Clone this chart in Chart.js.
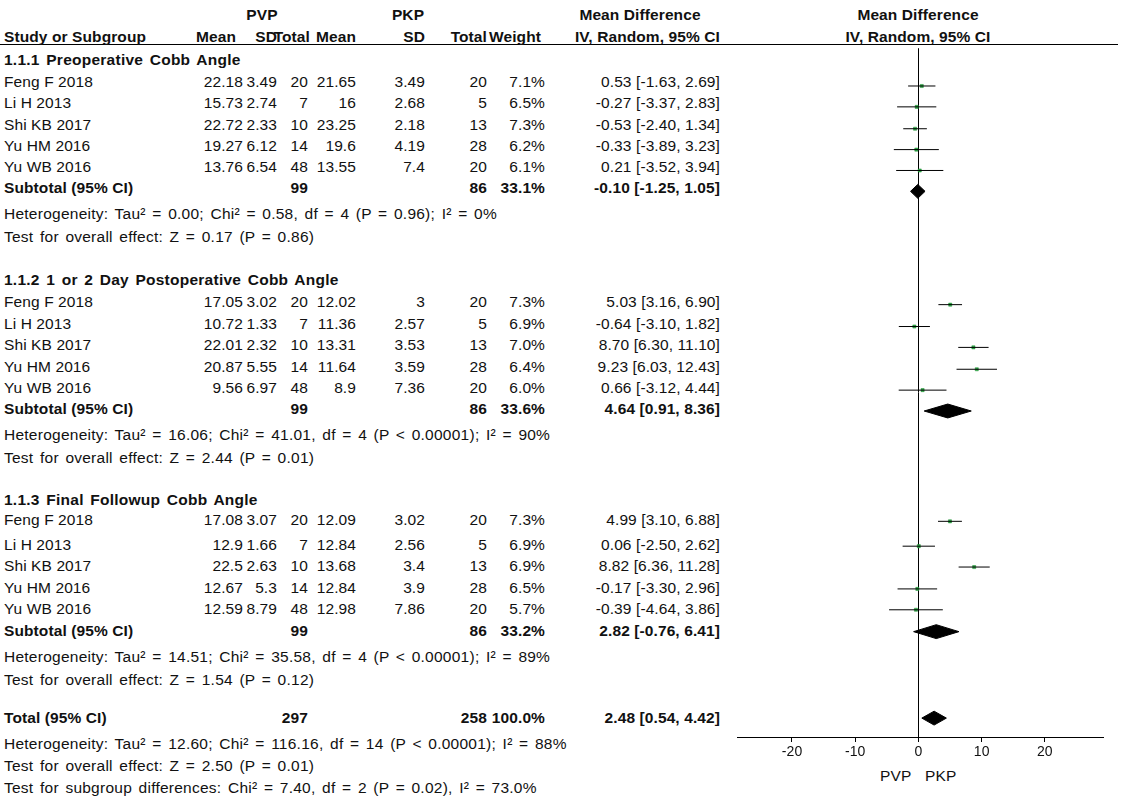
<!DOCTYPE html>
<html><head><meta charset="utf-8">
<script src="https://cdn.jsdelivr.net/npm/chart.js@4"></script>
<style>
body{margin:0;width:1123px;height:797px;background:#fff;position:relative;overflow:hidden;font-family:"Liberation Sans",Arial,sans-serif;font-size:15.5px;letter-spacing:0.1px;color:#111}
.t{position:absolute;white-space:nowrap;line-height:18px}
.b{font-weight:bold}
.n{word-spacing:2px;letter-spacing:0.25px}
#hl{position:absolute;left:0;top:44px;width:1118px;height:1px;background:#000}
#wrap{position:absolute;left:717px;top:0;width:406px;height:770px}
</style></head><body>
<div id="hl"></div>
<div id="tbl"></div>
<div id="wrap"><canvas id="c"></canvas></div>
<script>
// table rows: [label, pvpMean, pvpSD, pvpN, pkpMean, pkpSD, pkpN, weight, md, lo, hi]
const studies1 = [
  ["Feng F 2018", "22.18", "3.49", 20, "21.65", "3.49", 20, "7.1%", 0.53, -1.63, 2.69],
  ["Li H 2013", "15.73", "2.74", 7, "16", "2.68", 5, "6.5%", -0.27, -3.37, 2.83],
  ["Shi KB 2017", "22.72", "2.33", 10, "23.25", "2.18", 13, "7.3%", -0.53, -2.40, 1.34],
  ["Yu HM 2016", "19.27", "6.12", 14, "19.6", "4.19", 28, "6.2%", -0.33, -3.89, 3.23],
  ["Yu WB 2016", "13.76", "6.54", 48, "13.55", "7.4", 20, "6.1%", 0.21, -3.52, 3.94]
];
const studies2 = [
  ["Feng F 2018", "17.05", "3.02", 20, "12.02", "3", 20, "7.3%", 5.03, 3.16, 6.90],
  ["Li H 2013", "10.72", "1.33", 7, "11.36", "2.57", 5, "6.9%", -0.64, -3.10, 1.82],
  ["Shi KB 2017", "22.01", "2.32", 10, "13.31", "3.53", 13, "7.0%", 8.70, 6.30, 11.10],
  ["Yu HM 2016", "20.87", "5.55", 14, "11.64", "3.59", 28, "6.4%", 9.23, 6.03, 12.43],
  ["Yu WB 2016", "9.56", "6.97", 48, "8.9", "7.36", 20, "6.0%", 0.66, -3.12, 4.44]
];
const studies3 = [
  ["Feng F 2018", "17.08", "3.07", 20, "12.09", "3.02", 20, "7.3%", 4.99, 3.10, 6.88],
  ["Li H 2013", "12.9", "1.66", 7, "12.84", "2.56", 5, "6.9%", 0.06, -2.50, 2.62],
  ["Shi KB 2017", "22.5", "2.63", 10, "13.68", "3.4", 13, "6.9%", 8.82, 6.36, 11.28],
  ["Yu HM 2016", "12.67", "5.3", 14, "12.84", "3.9", 28, "6.5%", -0.17, -3.30, 2.96],
  ["Yu WB 2016", "12.59", "8.79", 48, "12.98", "7.86", 20, "5.7%", -0.39, -4.64, 3.86]
];
// [pvpN, pkpN, weight, md, lo, hi]
const subtotals = [
  [99, 86, "33.1%", -0.10, -1.25, 1.05],
  [99, 86, "33.6%", 4.64, 0.91, 8.36],
  [99, 86, "33.2%", 2.82, -0.76, 6.41]
];
const total = [297, 258, "100.0%", 2.48, 0.54, 4.42];
const groupTitles = ["1.1.1 Preoperative Cobb Angle", "1.1.2 1 or 2 Day Postoperative Cobb Angle", "1.1.3 Final Followup Cobb Angle"];
const hetText = [
  "Heterogeneity: Tau² = 0.00; Chi² = 0.58, df = 4 (P = 0.96); I² = 0%",
  "Heterogeneity: Tau² = 16.06; Chi² = 41.01, df = 4 (P < 0.00001); I² = 90%",
  "Heterogeneity: Tau² = 14.51; Chi² = 35.58, df = 4 (P < 0.00001); I² = 89%"
];
const effText = ["Test for overall effect: Z = 0.17 (P = 0.86)", "Test for overall effect: Z = 2.44 (P = 0.01)", "Test for overall effect: Z = 1.54 (P = 0.12)"];
const totalNotes = [
  "Heterogeneity: Tau² = 12.60; Chi² = 116.16, df = 14 (P < 0.00001); I² = 88%",
  "Test for overall effect: Z = 2.50 (P = 0.01)",
  "Test for subgroup differences: Chi² = 7.40, df = 2 (P = 0.02), I² = 73.0%"
];
const xTicks = [-20, -10, 0, 10, 20];
// row centres (page y)
const groupTop = [60, 280, 500];
const studyRows = [[82, 103, 125, 146, 167], [302, 324, 345, 367, 388], [520, 545, 566, 588, 609]];
const subRows = [188, 409, 631];
const totalRow = 718;

const tbl = document.getElementById("tbl");
function put(txt, x, y, cls, right) {
  const d = document.createElement("div");
  d.className = "t " + (cls || "");
  d.textContent = txt;
  d.style.top = (y - 9) + "px";
  if (right) d.style.right = (1123 - x) + "px"; else d.style.left = x + "px";
  tbl.appendChild(d);
}
function putC(txt, cx, y, cls) {
  const d = document.createElement("div");
  d.className = "t " + (cls || "");
  d.textContent = txt; d.style.top = (y - 9) + "px"; d.style.left = (cx - 150) + "px";
  d.style.width = "300px"; d.style.textAlign = "center"; tbl.appendChild(d);
}
const colR = [243, 277, 308, 356, 425, 487, 545, 720];
const fmt = (v) => v.toFixed(2);
const ci = (m, l, h) => `${fmt(m)} [${fmt(l)}, ${fmt(h)}]`;
// header
putC("PVP", 262, 15, "b"); putC("PKP", 408, 15, "b"); putC("Mean Difference", 640, 15, "b"); putC("Mean Difference", 918, 15, "b");
put("Study or Subgroup", 4, 37, "b");
["Mean", "SD", "Total", "Mean", "SD", "Total", "Weight", "IV, Random, 95% CI"].forEach((h, i) => put(h, [236, 277, 310, 356, 425, 487, 541, 720][i], 37, "b", true));
putC("IV, Random, 95% CI", 918, 37, "b");

const groups = [studies1, studies2, studies3];
groups.forEach((g, gi) => {
  put(groupTitles[gi], 4, groupTop[gi], "b n");
  g.forEach((s, si) => {
    const y = studyRows[gi][si];
    put(s[0], 4, y);
    [s[1], s[2], s[3], s[4], s[5], s[6], s[7]].forEach((v, k) => put(String(v), colR[k], y, "", true));
    put(ci(s[8], s[9], s[10]), colR[7], y, "", true);
  });
  const st = subtotals[gi], y = subRows[gi];
  put("Subtotal (95% CI)", 4, y, "b");
  put(String(st[0]), colR[2], y, "b", true); put(String(st[1]), colR[5], y, "b", true);
  put(st[2], colR[6], y, "b", true); put(ci(st[3], st[4], st[5]), colR[7], y, "b", true);
  put(hetText[gi], 4, y + 26, "n"); put(effText[gi], 4, y + 49, "n");
});
put("Total (95% CI)", 4, totalRow, "b");
put(String(total[0]), colR[2], totalRow, "b", true); put(String(total[1]), colR[5], totalRow, "b", true);
put(total[2], colR[6], totalRow, "b", true); put(ci(total[3], total[4], total[5]), colR[7], totalRow, "b", true);
totalNotes.forEach((t, i) => put(t, 4, [744, 766, 788][i], "n"));
put("PVP", 880, 776); put("PKP", 925, 776);

// chart datasets
const ds = [];
const squares = [];
groups.forEach((g, gi) => g.forEach((s, si) => {
  const y = studyRows[gi][si];
  ds.push({ type: "line", data: [{ x: s[9], y }, { x: s[10], y }], borderColor: "#000", borderWidth: 1, pointRadius: 0 });
  squares.push({ x: s[8], y });
}));
ds.push({ type: "scatter", data: squares, pointStyle: "rect", pointRadius: 2.2, backgroundColor: "#2fb04a", borderColor: "#1c8a30", borderWidth: 0.5 });
const dia = (m, l, h, y) => [{ x: l, y }, { x: m, y: y - 7 }, { x: h, y }, { x: m, y: y + 7 }, { x: l, y }];
subtotals.forEach((st, i) => ds.push({ type: "line", data: dia(st[3], st[4], st[5], subRows[i]), borderColor: "#000", backgroundColor: "#000", borderWidth: 1, pointRadius: 0, fill: "shape" }));
ds.push({ type: "line", data: dia(total[3], total[4], total[5], totalRow), borderColor: "#000", backgroundColor: "#000", borderWidth: 1, pointRadius: 0, fill: "shape" });

const zeroLine = { id: "zero", beforeDatasetsDraw(ch) {
  const c = ch.ctx, x = ch.scales.x.getPixelForValue(0), y = ch.scales.y;
  c.save(); c.strokeStyle = "#000"; c.lineWidth = 1; c.beginPath();
  c.moveTo(Math.round(x) + 0.5, y.getPixelForValue(44)); c.lineTo(Math.round(x) + 0.5, y.getPixelForValue(737)); c.stroke(); c.restore();
} };

new Chart(document.getElementById("c"), {
  type: "scatter",
  data: { datasets: ds },
  plugins: [zeroLine],
  options: {
    responsive: true, maintainAspectRatio: false, animation: false,
    layout: { padding: { left: 20, right: 20, top: 0, bottom: 0 } },
    plugins: { legend: { display: false }, tooltip: { enabled: false } },
    scales: {
      x: { type: "linear", min: -28.7, max: 29.2,
        afterBuildTicks: (s) => { s.ticks = xTicks.map((v) => ({ value: v })); },
        afterFit: (s) => { s.height = 33; },
        border: { color: "#000" },
        grid: { drawOnChartArea: false, drawTicks: true, tickLength: 5, color: "#000" },
        ticks: { color: "#111", font: { family: "Liberation Sans", size: 14 }, padding: 2, maxRotation: 0 } },
      y: { type: "linear", min: 0, max: 737, reverse: true, display: false }
    }
  }
});
</script></body></html>
